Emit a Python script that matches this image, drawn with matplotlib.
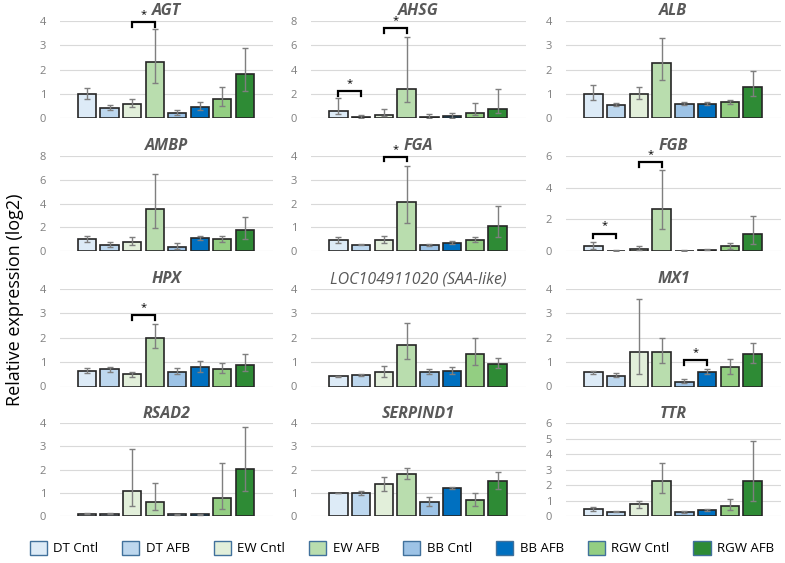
import matplotlib.pyplot as plt
from matplotlib.patches import Patch

plt.rcParams["font.family"] = ["Open Sans", "DejaVu Sans"]

GROUPS = ["DT Cntl", "DT AFB", "EW Cntl", "EW AFB", "BB Cntl", "BB AFB", "RGW Cntl", "RGW AFB"]
COLORS = ["#DDEBF7", "#BDD7EE", "#E2EFDA", "#B9DDAE", "#9DC3E6", "#0070C0", "#93CE82", "#2E8B35"]

GENES = ["AGT", "AHSG", "ALB", "AMBP", "FGA", "FGB",
         "HPX", "LOC104911020 (SAA-like)", "MX1", "RSAD2", "SERPIND1", "TTR"]

# mean values per gene (8 groups)
agt = [1.0, 0.42, 0.6, 2.3, 0.22, 0.47, 0.8, 1.8]
ahsg = [0.6, 0.12, 0.3, 2.4, 0.12, 0.15, 0.45, 0.8]
alb = [1.0, 0.55, 1.0, 2.25, 0.6, 0.6, 0.65, 1.3]
ambp = [1.0, 0.5, 0.75, 3.5, 0.35, 1.1, 1.0, 1.75]
fga = [0.45, 0.27, 0.45, 2.05, 0.25, 0.33, 0.48, 1.05]
fgb = [0.3, 0.03, 0.12, 2.65, 0.03, 0.08, 0.3, 1.05]
hpx = [0.65, 0.72, 0.5, 2.0, 0.6, 0.8, 0.72, 0.9]
loc = [0.42, 0.48, 0.58, 1.7, 0.6, 0.62, 1.32, 0.93]
mx1 = [0.58, 0.45, 1.42, 1.42, 0.2, 0.6, 0.78, 1.33]
rsad2 = [0.1, 0.1, 1.1, 0.6, 0.07, 0.08, 0.78, 2.03]
serpind1 = [1.0, 1.0, 1.37, 1.82, 0.6, 1.22, 0.67, 1.5]
ttr = [0.45, 0.28, 0.75, 2.27, 0.25, 0.38, 0.65, 2.27]

# error bar lower / upper ends
agt_lo = [0.8, 0.33, 0.45, 1.45, 0.15, 0.35, 0.5, 1.1]
agt_hi = [1.25, 0.55, 0.8, 3.65, 0.33, 0.65, 1.3, 2.9]
ahsg_lo = [0.35, 0.05, 0.15, 1.3, 0.05, 0.05, 0.3, 0.4]
ahsg_hi = [1.7, 0.3, 0.75, 6.7, 0.35, 0.45, 1.25, 2.4]
alb_lo = [0.75, 0.5, 0.8, 1.55, 0.55, 0.55, 0.6, 0.9]
alb_hi = [1.35, 0.62, 1.3, 3.3, 0.67, 0.65, 0.75, 1.95]
ambp_lo = [0.8, 0.35, 0.5, 1.9, 0.15, 0.95, 0.8, 1.0]
ambp_hi = [1.3, 0.75, 1.2, 6.5, 0.65, 1.3, 1.3, 2.9]
fga_lo = [0.35, 0.25, 0.35, 1.2, 0.22, 0.28, 0.38, 0.6]
fga_hi = [0.6, 0.3, 0.65, 3.6, 0.3, 0.42, 0.6, 1.9]
fgb_lo = [0.15, 0.02, 0.05, 1.4, 0.02, 0.05, 0.15, 0.45]
fgb_hi = [0.6, 0.04, 0.3, 5.1, 0.04, 0.12, 0.5, 2.2]
hpx_lo = [0.55, 0.6, 0.4, 1.6, 0.5, 0.6, 0.55, 0.65]
hpx_hi = [0.75, 0.82, 0.6, 2.55, 0.75, 1.05, 0.95, 1.35]
loc_lo = [0.38, 0.45, 0.4, 1.12, 0.52, 0.5, 0.9, 0.75]
loc_hi = [0.45, 0.52, 0.85, 2.62, 0.7, 0.78, 2.0, 1.15]
mx1_lo = [0.52, 0.38, 0.5, 0.95, 0.13, 0.5, 0.5, 0.97]
mx1_hi = [0.65, 0.55, 3.57, 2.0, 0.32, 0.72, 1.12, 1.8]
rsad2_lo = [0.08, 0.08, 0.45, 0.25, 0.05, 0.06, 0.3, 1.1]
rsad2_hi = [0.12, 0.12, 2.88, 1.42, 0.1, 0.1, 2.27, 3.85]
serpind1_lo = [1.0, 0.9, 1.1, 1.58, 0.45, 1.17, 0.45, 1.17]
serpind1_hi = [1.0, 1.1, 1.67, 2.08, 0.8, 1.27, 0.98, 1.88]
ttr_lo = [0.35, 0.25, 0.55, 1.5, 0.2, 0.32, 0.4, 1.0]
ttr_hi = [0.6, 0.3, 1.0, 3.45, 0.3, 0.45, 1.1, 4.83]

MEANS = [agt, ahsg, alb, ambp, fga, fgb, hpx, loc, mx1, rsad2, serpind1, ttr]
LOWS = [agt_lo, ahsg_lo, alb_lo, ambp_lo, fga_lo, fgb_lo, hpx_lo, loc_lo, mx1_lo, rsad2_lo, serpind1_lo, ttr_lo]
HIGHS = [agt_hi, ahsg_hi, alb_hi, ambp_hi, fga_hi, fgb_hi, hpx_hi, loc_hi, mx1_hi, rsad2_hi, serpind1_hi, ttr_hi]

YMAX = [4, 8, 4, 8, 4, 6, 4, 4, 4, 4, 4, 6]
YSTEP = [1, 2, 1, 2, 1, 2, 1, 1, 1, 1, 1, 1]

# significance brackets: (panel index, bar i, bar j, bracket height)
SIG = [
    (0, 2, 3, 3.95),
    (1, 0, 1, 2.25),
    (1, 2, 3, 7.4),
    (4, 2, 3, 3.97),
    (5, 0, 1, 1.1),
    (5, 2, 3, 5.6),
    (6, 2, 3, 2.93),
    (8, 4, 5, 1.08),
]

W, H = 785, 563
fig = plt.figure(figsize=(W / 100, H / 100), dpi=100)

col_x = [(60, 273), (311, 526), (566, 781)]
row_y = [(20.7, 118.3), (156, 251), (289, 386.5), (423.3, 516)]

axes = []
for k, gene in enumerate(GENES):
    r, c = divmod(k, 3)
    x0, x1 = col_x[c]
    ytop, ybot = row_y[r]
    ax = fig.add_axes([x0 / W, 1 - ybot / H, (x1 - x0) / W, (ybot - ytop) / H])
    axes.append(ax)
    xs = list(range(len(GROUPS)))
    vals = MEANS[k]
    err = [[v - lo for v, lo in zip(vals, LOWS[k])], [hi - v for v, hi in zip(vals, HIGHS[k])]]
    ax.bar(xs, vals, width=0.81, color=COLORS, edgecolor="#262626", linewidth=1.2, zorder=2)
    ax.errorbar(xs, vals, yerr=err, fmt="none", ecolor="#7f7f7f", elinewidth=1.0,
                capsize=2.5, capthick=1.0, zorder=3)
    ax.set_xlim(-1.2, 8.25)
    ax.set_ylim(0, YMAX[k])
    ax.set_yticks(range(0, YMAX[k] + 1, YSTEP[k]))
    ax.set_xticks([])
    ax.grid(axis="y", color="#d9d9d9", linewidth=0.8, zorder=0)
    for s in ax.spines.values():
        s.set_visible(False)
    ax.tick_params(axis="y", length=0, labelsize=8, labelcolor="#7f7f7f", pad=10)
    weight = "normal" if gene.startswith("LOC") else "bold"
    ax.set_title(gene, fontsize=11.5, style="italic", weight=weight, color="#595959", pad=4)

for k, i, j, yb in SIG:
    ax = axes[k]
    leg = YMAX[k] * 0.05
    ax.plot([i, i, j, j], [yb - leg, yb, yb, yb - leg], color="black", lw=1.6,
            clip_on=False, zorder=4, solid_joinstyle="miter")
    ax.annotate("*", xy=((i + j) / 2, yb), xytext=(0, 1.5), textcoords="offset points",
                ha="center", va="bottom", fontsize=8, annotation_clip=False)

fig.text(15 / W, 1 - 300 / H, "Relative expression (log2)", rotation=90,
         ha="center", va="center", fontsize=13)

handles = [Patch(facecolor=col, edgecolor="#41719C", linewidth=1.0) for col in COLORS]
fig.legend(handles, GROUPS, loc="center", bbox_to_anchor=(0.512, 1 - 548 / H), ncol=8,
           frameon=False, fontsize=9.5, handlelength=1.3, handleheight=1.3,
           columnspacing=1.8, handletextpad=0.5)

fig.savefig("out.png", dpi=100)
